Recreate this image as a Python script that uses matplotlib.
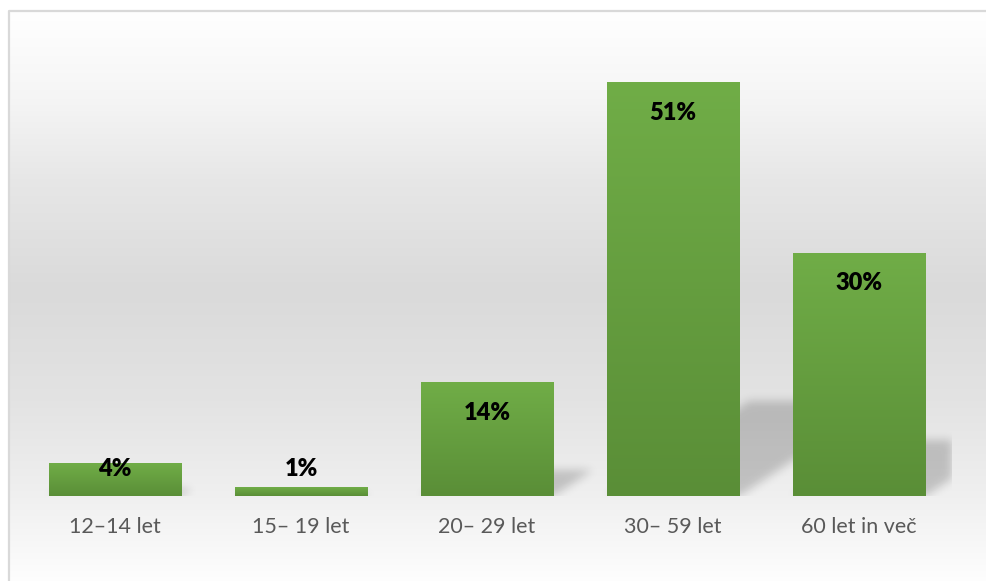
# Gráfico de barras por grupos de edad (porcentajes), con fondo degradado y sombras
import numpy as np
import matplotlib.pyplot as plt
from matplotlib.colors import LinearSegmentedColormap

plt.rcParams['font.family'] = ['Lato', 'DejaVu Sans']

# Datos
categorias = ['12–14 let', '15– 19 let', '20– 29 let', '30– 59 let', '60 let in več']
valores = [4, 1, 14, 51, 30]
etiquetas = ['4%', '1%', '14%', '51%', '30%']

W, H = 986, 581
fig = plt.figure(figsize=(W / 100, H / 100), dpi=100)

# Fondo degradado vertical (en píxeles de la figura)
fondo = fig.add_axes([0, 0, 1, 1])
fondo.set_xlim(0, W)
fondo.set_ylim(H, 0)
fondo.set_axis_off()
paradas_y = [12, 100, 180, 290, 400, 496, 581]
paradas_g = [1.0, 0.96, 0.905, 0.855, 0.89, 0.94, 0.995]
filas = np.arange(12, H)
gris = np.interp(filas, paradas_y, paradas_g)
img_fondo = np.repeat(gris[:, None], 3, axis=1)[:, None, :]
fondo.imshow(img_fondo, extent=(9.5, W, H, 12), aspect='auto', interpolation='bilinear')
fondo.plot([8.5, 8.5, W], [H, 11, 11], color='#d9d9d9', lw=1.6)
fondo.set_xlim(0, W)
fondo.set_ylim(H, 0)

# Ejes principales
x0, x1, yb, yt = 22, 952, 496, 30
ax = fig.add_axes([x0 / W, (H - yb) / H, (x1 - x0) / W, (yb - yt) / H])
ax.patch.set_alpha(0)
ymax = (yb - yt) / 8.1
xmin, xmax = -0.5, len(valores) - 0.5
ancho = 0.715

# Sombras en perspectiva (máscara difuminada)
nx, ny = x1 - x0, yb - yt
xs = xmin + (np.arange(nx) + 0.5) / nx * (xmax - xmin)
ys = (np.arange(ny) + 0.5) / ny * ymax
X, Y = np.meshgrid(xs, ys)
px_x = nx / (xmax - xmin)
px_y = ny / ymax
mascara = np.zeros_like(X)
for i, v in enumerate(valores):
    hs = 0.23 * v
    desp = 1.5 * hs * px_y / px_x
    t = np.clip(Y / hs, 0, 1)
    dentro = (Y <= hs) & (X >= i - ancho / 2 + desp * t) & (X <= i + ancho / 2 + desp * t)
    mascara[dentro] = 1.0

sigma = 4.5
k = np.arange(-14, 15)
nucleo = np.exp(-k ** 2 / (2 * sigma ** 2))
nucleo /= nucleo.sum()
mascara = np.array([np.convolve(f, nucleo, mode='same') for f in mascara])
mascara = np.array([np.convolve(c, nucleo, mode='same') for c in mascara.T]).T
sombra = np.zeros((ny, nx, 4))
sombra[..., 3] = 0.19 * mascara
ax.imshow(sombra, extent=(xmin, xmax, 0, ymax), origin='lower', aspect='auto',
          interpolation='bilinear', zorder=1)

# Barras con degradado
verde = LinearSegmentedColormap.from_list('verde', ['#5a8e37', '#70ad47'])
grad = np.linspace(0, 1, 256)[:, None]
for i, v in enumerate(valores):
    ax.imshow(grad, cmap=verde, extent=(i - ancho / 2, i + ancho / 2, 0, v),
              origin='lower', aspect='auto', interpolation='bilinear', zorder=2)
    ax.text(i, max(v - 3.7, 3.3), etiquetas[i], ha='center', va='center',
            fontsize=17, fontweight='heavy', color='black', zorder=3)

ax.set_xlim(xmin, xmax)
ax.set_ylim(0, ymax)
ax.set_xticks(range(len(categorias)), categorias)
ax.set_yticks([])
ax.tick_params(axis='x', length=0, pad=15, labelsize=15.5, colors='#595959')
for s in ax.spines.values():
    s.set_visible(False)

fig.savefig('out.png', dpi=100)
